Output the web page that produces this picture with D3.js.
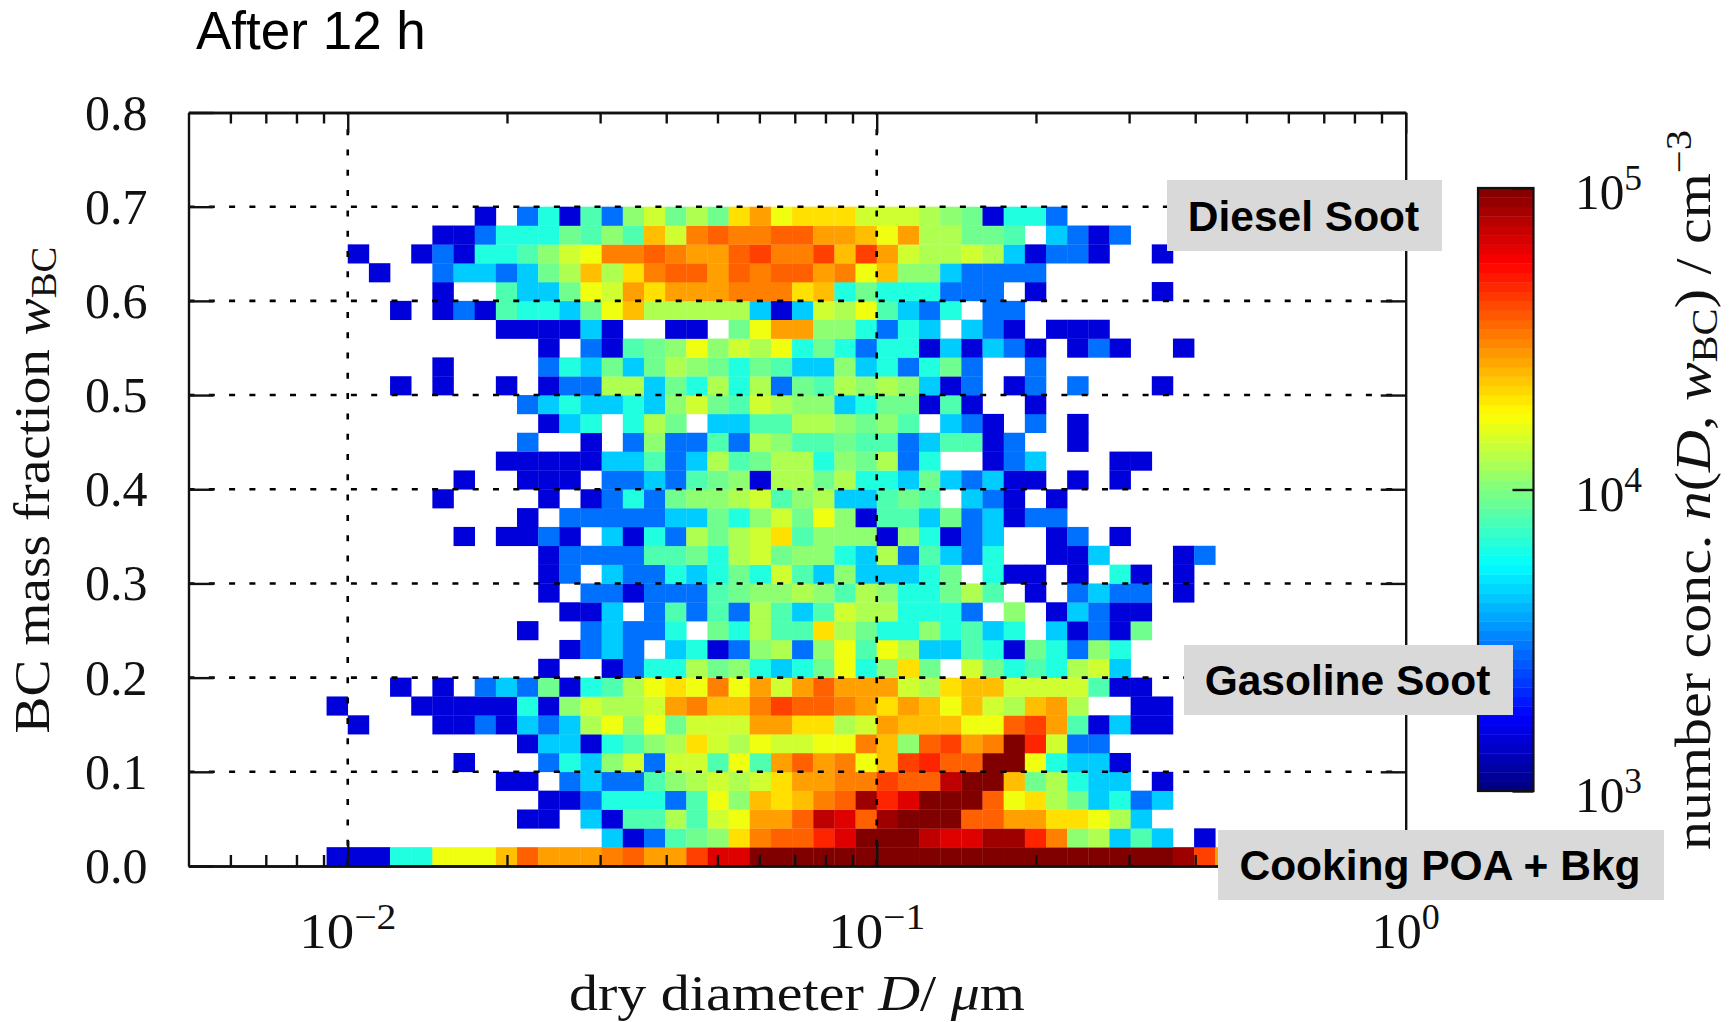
<!DOCTYPE html>
<html><head><meta charset="utf-8">
<script src="https://cdn.jsdelivr.net/npm/d3@7/dist/d3.min.js"></script>
<style>html,body{margin:0;padding:0;background:#fff}svg{display:block}</style>
</head><body><svg id="c" width="1735" height="1022"></svg>
<script>
// Colour classes -> concentration n (cm^-3)
const levelKeys = "bactglmnyYzoOpqrRsuvw".split("");
const levelValues = [1510,2950,4470,6490,8050,9330,10700,12400,14300,16600,20500,23700,27400,31600,36300,42200,47900,64900,75000,87100,100000];
// Bins: 25 per decade in D, 0.02 wide in wBC. Index 0 of each array is the bottom row.
const binsPerDecade = 25;
const wBin = 0.02;
const rowStart = [-1,12,8,9,7,5,8,0,-1,2,9,10,8,10,9,9,9,5,8,4,5,7,8,9,8,2,4,9,7,2,4,1,0,4,6];
const rowCells = [
"bbbttYYYoqOOOpqOOrsswwwwwwwwwwwwwwwwwwwwvrO",
"cbaglmzpqqRswwwussvvRpmncgc.b",
"bb.cbggngyYOOqusqvwwwqqOOzzYnc",
"bbatttagYmozopqvRswwwqYznlctac",
"bb.acaagmnynyzOOpprqquwwolntcc.b",
"b...atcmyayygYgOqOpYorRqqwwYtccb",
"bccbtgmnzynYyyYYpomqrOpwRyaa",
"b...bbabcacnYmYlyyyOOzznyOoooYYqrOgbcbb",
"b...bbbbbtbmynnyOpooprqqpOzOoYoynoOn..bb",
"b.b.acalbtgnYzYpYOyOqOOOynzooyyyygbb",
"b..battnlmtctlYtmzl.yltgtnyc",
"baca.ctbamnamYgYnccgtbltamt",
"b..acaat.ltnggznlttmtgct.cbabl",
"bbc.agagangcgynnttta.m.bcabb",
"b.aabaaaglmmnmgnmttlng.b.acaa.b",
"ba.caatctltygcmccctl.tbb.b.tb.b",
"baaaaggltnylmmtcnagcat..bbc...ba",
"b.bbab.cbtanlnyzgmmmbmtbac..ba.b",
"b.aaaaaccltmylYmbggclacbaa",
"b....b.batalmmnygmnccglg.cab.b",
"b..bbb.aacaglmbnnlnttclcacbb.b.b",
"bbbbbccgacnglnntmlnat..bac...bb",
"a..b.amaaganmgglggacggba..b",
"bct.tnl.ccggnnmlmg.cab.a.b",
"actcctcmylgynmmctllbgb..b",
"b.b..b.baanncltntnalgnmnmcba.ba.a...b",
"b....atclclnmltlgccmctatla..a",
"b.abglmYmynYtltattbcbcab.bab..b",
"bbbbcb..bb.lYOOmmtatc.cab.bbb",
"b.babgttclYonnnnncbcynYgcat.aa",
"b..gcclYyOzOOOpppzotltttaaa.b.....b",
"b..accaclnonzpqqOqpqqOpYommcaaaa",
"b..babttgmyYppqpOOqrpprorOynnyncbaab..b",
"bbatttlgmgoypqppqqOOoYOnnllg.caba",
"b.atbgamylnlzOYzzzyyynmlbtta"
];
const xMajorTicks = [0.01,0.1,1];
const xMinorTicks = [0.006,0.007,0.008,0.009,0.02,0.03,0.04,0.05,0.06,0.07,0.08,0.09,0.2,0.3,0.4,0.5,0.6,0.7,0.8,0.9];
const yTicks = [0,0.1,0.2,0.3,0.4,0.5,0.6,0.7,0.8];
const cbTicks = [1e3,1e4,1e5];
const notes = ["Diesel Soot","Gasoline Soot","Cooking POA + Bkg"];

const svg = d3.select("#c");
const W = {l:188.5,r:1405.7,t:112.5,b:866};
const x = d3.scaleLog().domain([0.005,1]).range([W.l,W.r]);
const y = d3.scaleLinear().domain([0,0.8]).range([W.b,W.t]);
const valueOf = new Map(levelKeys.map((k,i)=>[k,levelValues[i]]));
const tOf = d3.scaleLog().domain([1e3,1e5]).range([0,1]).clamp(true);
const cl = v => Math.max(0,Math.min(1,v));
const jet = t => d3.rgb(255*cl(1.5-Math.abs(4*t-3)),255*cl(1.5-Math.abs(4*t-2)),255*cl(1.5-Math.abs(4*t-1))).formatHex();
const color = v => jet(tOf(v));

const cells = [];
rowCells.forEach((s,r)=>{ s.split("").forEach((ch,i)=>{
  if(ch==="."||!valueOf.has(ch)) return;
  const k = rowStart[r]+i;
  cells.push({d0:Math.pow(10,-2+k/binsPerDecade),d1:Math.pow(10,-2+(k+1)/binsPerDecade),w0:r*wBin,w1:(r+1)*wBin,n:valueOf.get(ch)});
});});
svg.append("g").selectAll("rect").data(cells).join("rect")
  .attr("x",d=>x(d.d0)).attr("y",d=>y(d.w1))
  .attr("width",d=>x(d.d1)-x(d.d0)+0.3).attr("height",d=>y(d.w0)-y(d.w1)+0.3)
  .attr("fill",d=>color(d.n));

// dotted grid
const dash = "6 14.3";
svg.append("g").selectAll("line").data(yTicks.slice(1,-1)).join("line")
  .attr("x1",W.l).attr("x2",W.r).attr("y1",d=>y(d)).attr("y2",d=>y(d))
  .attr("stroke","#000").attr("stroke-width",2.6).attr("stroke-dasharray",dash);
svg.append("g").selectAll("line").data(xMajorTicks.slice(0,2)).join("line")
  .attr("y1",W.b).attr("y2",W.t).attr("x1",d=>x(d)).attr("x2",d=>x(d))
  .attr("stroke","#000").attr("stroke-width",2.6).attr("stroke-dasharray",dash);

// axes (ticks pointing inward)
function styleAxis(g){ g.selectAll("path,line").attr("stroke","#111").attr("stroke-width",2.4); g.selectAll("text").remove(); }
const ax = (gen,tx,ty)=>svg.append("g").attr("transform",`translate(${tx},${ty})`).call(gen).call(styleAxis);
ax(d3.axisTop(x).tickValues(xMajorTicks).tickSizeInner(25).tickSizeOuter(0),0,W.b);
ax(d3.axisTop(x).tickValues(xMinorTicks).tickSizeInner(11).tickSizeOuter(0),0,W.b);
ax(d3.axisBottom(x).tickValues(xMajorTicks).tickSizeInner(21).tickSizeOuter(0),0,W.t);
ax(d3.axisBottom(x).tickValues(xMinorTicks).tickSizeInner(11).tickSizeOuter(0),0,W.t);
ax(d3.axisRight(y).tickValues(yTicks).tickSizeInner(25).tickSizeOuter(0),W.l,0);
ax(d3.axisLeft(y).tickValues(yTicks).tickSizeInner(25).tickSizeOuter(0),W.r,0);

const serif = "'Liberation Serif',serif";
const sans = "'Liberation Sans',Arial,sans-serif";
svg.append("g").selectAll("text").data(yTicks).join("text")
  .attr("x",147.5).attr("y",d=>y(d)+17).attr("text-anchor","end")
  .attr("font-family",serif).attr("font-size",50).attr("fill","#111")
  .text(d=>d.toFixed(1));

function power(sel,exp){
  sel.append("tspan").text("10");
  sel.append("tspan").attr("dy",-19).attr("font-size",36).text(exp);
}
const expOf = v => String(Math.round(Math.log10(v))).replace("-","\u2212");
svg.append("g").selectAll("text").data(xMajorTicks).join("text")
  .attr("x",d=>x(d)).attr("y",948).attr("text-anchor","middle")
  .attr("font-family",serif).attr("font-size",50).attr("fill","#111")
  .attr("textLength",d=>expOf(d).length>1?97:68).attr("lengthAdjust","spacingAndGlyphs")
  .each(function(d){ power(d3.select(this),expOf(d)); });

// axis titles
const xt = svg.append("text").attr("x",797).attr("y",1010).attr("text-anchor","middle")
  .attr("font-family",serif).attr("font-size",50).attr("fill","#111")
  .attr("textLength",456).attr("lengthAdjust","spacingAndGlyphs");
xt.append("tspan").text("dry diameter ");
xt.append("tspan").attr("font-style","italic").text("D");
xt.append("tspan").text("/ ");
xt.append("tspan").attr("font-style","italic").text("\u03bc");
xt.append("tspan").text("m");

const yt = svg.append("text").attr("transform","translate(49,490) rotate(-90)").attr("text-anchor","middle")
  .attr("font-family",serif).attr("font-size",50).attr("fill","#111")
  .attr("textLength",487).attr("lengthAdjust","spacingAndGlyphs");
yt.append("tspan").text("BC mass fraction ");
yt.append("tspan").attr("font-style","italic").text("w");
yt.append("tspan").attr("font-size",35).attr("dy",7).text("BC");

// colour bar
const cbY = d3.scaleLog().domain([1e3,1e5]).range([791,188]);
const cbX0 = 1478, cbX1 = 1533.5;
const cbSteps = d3.range(64).map(i=>i/64);
const cbFrac = d3.scaleLinear().domain([0,1]).range([1e3,1e5].map(Math.log10));
svg.append("g").selectAll("rect").data(cbSteps).join("rect")
  .attr("x",cbX0).attr("width",cbX1-cbX0)
  .attr("y",d=>cbY(Math.pow(10,cbFrac(d+1/64)))).attr("height",d=>cbY(Math.pow(10,cbFrac(d)))-cbY(Math.pow(10,cbFrac(d+1/64)))+0.4)
  .attr("fill",d=>jet(d+1/128));
svg.append("rect").attr("x",cbX0).attr("y",188).attr("width",cbX1-cbX0).attr("height",603)
  .attr("fill","none").attr("stroke","#111").attr("stroke-width",2.2);
svg.append("g").attr("transform",`translate(${cbX1},0)`)
  .call(d3.axisLeft(cbY).tickValues(cbTicks).tickSizeInner(21).tickSizeOuter(0).tickFormat(""))
  .call(styleAxis).select("path").remove();
svg.append("g").selectAll("text").data(cbTicks).join("text")
  .attr("x",1575).attr("y",d=>cbY(d)+21).attr("font-family",serif).attr("font-size",50).attr("fill","#111")
  .attr("textLength",67).attr("lengthAdjust","spacingAndGlyphs")
  .each(function(d){ power(d3.select(this),expOf(d)); });

const ct = svg.append("text").attr("transform","translate(1710,490) rotate(-90)").attr("text-anchor","middle")
  .attr("font-family",serif).attr("font-size",50).attr("fill","#111")
  .attr("textLength",720).attr("lengthAdjust","spacingAndGlyphs");
ct.append("tspan").text("number conc. ");
ct.append("tspan").attr("font-style","italic").text("n");
ct.append("tspan").text("(");
ct.append("tspan").attr("font-style","italic").text("D");
ct.append("tspan").text(", ");
ct.append("tspan").attr("font-style","italic").text("w");
ct.append("tspan").attr("font-size",35).attr("dy",7).text("BC");
ct.append("tspan").attr("dy",-7).text(") / cm");
ct.append("tspan").attr("font-size",35).attr("dy",-19).text("\u22123");

// title
svg.append("text").attr("x",196).attr("y",49).attr("font-family",sans).attr("font-size",53).attr("fill","#000").text("After 12 h");

// annotation boxes
const noteBoxes = [[1167,180,275,71],[1184,645,329,70],[1218,830,446,70]];
notes.forEach((t,i)=>{
  const b = noteBoxes[i];
  svg.append("rect").attr("x",b[0]).attr("y",b[1]).attr("width",b[2]).attr("height",b[3]).attr("fill","#d9d9d9");
  svg.append("text").attr("x",b[0]+b[2]/2-1).attr("y",b[1]+b[3]/2+15).attr("text-anchor","middle")
    .attr("font-family",sans).attr("font-weight","bold").attr("font-size",42.5).attr("fill","#000").text(t);
});
</script></body></html>
